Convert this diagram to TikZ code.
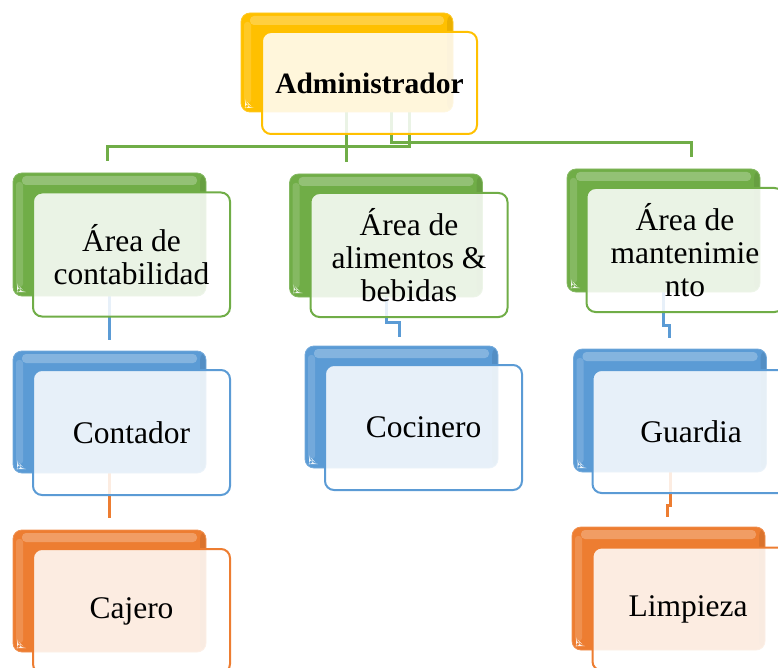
\documentclass[tikz,border=0pt]{standalone}
\usepackage{fontspec}
\setmainfont{Liberation Serif}
\usetikzlibrary{backgrounds}
\definecolor{cgold}{HTML}{FFC000}
\definecolor{cgreen}{HTML}{70AD47}
\definecolor{cblue}{HTML}{5B9BD5}
\definecolor{corange}{HTML}{ED7D31}
\tikzset{
  backbox/.style={rounded corners=9pt, inner sep=0pt, outer sep=0pt,
    minimum width=193pt, minimum height=123pt,
    fill=#1, draw=#1!85!white, line width=0.8pt,
    path picture={
      \fill[white,opacity=0.25,rounded corners=4pt]
        ([shift={(9pt,-3pt)}]path picture bounding box.north west) rectangle
        ([shift={(-9pt,-12pt)}]path picture bounding box.north east);
      \fill[white,opacity=0.15,rounded corners=3pt]
        ([shift={(3pt,-9pt)}]path picture bounding box.north west) rectangle
        ([shift={(10pt,9pt)}]path picture bounding box.south west);
      \fill[black,opacity=0.08]
        ([shift={(-6pt,0pt)}]path picture bounding box.north east) rectangle
        (path picture bounding box.south east);
      \fill[white,opacity=0.9]
        ([shift={(4pt,4pt)}]path picture bounding box.south west) -- ++(8pt,0pt) -- ++(-8pt,8pt) -- cycle;
    }},
  frontbox/.style={rounded corners=9pt, draw=#1, line width=2pt,
    fill=white, fill opacity=0.86, text opacity=1,
    minimum width=197pt, minimum height=124pt, inner sep=2pt, outer sep=0pt,
    align=center, font=\fontsize{31.5}{33}\selectfont},
  conn/.style={draw=#1, line width=3pt},
}
\begin{document}
\begin{tikzpicture}[x=1pt,y=-1pt]
\useasboundingbox (0,0) rectangle (778,668);

% Administrador
\node[backbox=cgold, minimum width=212pt, minimum height=99pt] (adminB) at (347,62.5) {};
\node[frontbox=cgold, minimum width=215pt, minimum height=102pt,
      font=\fontsize{29.5}{31}\selectfont\bfseries] (adminF) at (369.5,83) {Administrador};

% green level
\node[backbox=cgreen] (gLb) at (109.5,234.5) {};
\node[frontbox=cgreen] (gLf) at (131.5,254.5) {Área de\\contabilidad};
\node[backbox=cgreen] (gMb) at (386,235.5) {};
\node[frontbox=cgreen] (gMf) at (409,255) {Área de\\alimentos \&\\bebidas};
\node[backbox=cgreen] (gRb) at (663.5,230.5) {};
\node[frontbox=cgreen] (gRf) at (685,250) {Área de\\mantenimie\\nto};

% blue level
\node[backbox=cblue, minimum height=122pt] (bLb) at (109.5,412) {};
\node[frontbox=cblue, minimum height=125pt] (bLf) at (131.5,432.5) {Contador};
\node[backbox=cblue, minimum height=122pt] (bMb) at (401.5,407) {};
\node[frontbox=cblue, minimum height=125pt] (bMf) at (423.5,427.5) {Cocinero};
\node[backbox=cblue] (bRb) at (670,410.5) {};
\node[frontbox=cblue, minimum height=123pt] (bRf) at (691,431.5) {Guardia};

% orange level
\node[backbox=corange, minimum height=122pt] (oLb) at (109.5,591) {};
\node[frontbox=corange] (oLf) at (131.5,611) {Cajero};
\node[backbox=corange] (oRb) at (668.5,588.5) {};
\node[frontbox=corange, minimum height=123pt] (oRf) at (691,609) {\hspace*{-6pt}Limpieza};

% connectors (behind the boxes)
\begin{pgfonlayer}{background}
  \draw[conn=cgreen] ([xshift=-1pt]adminB.center) -- ([xshift=-40pt,yshift=12pt]gMb.north);
  \draw[conn=cgreen] ([xshift=62pt]adminB.center) -- ++(0,84.5) -| ([xshift=-2.5pt,yshift=12pt]gLb.north);
  \draw[conn=cgreen] ([xshift=44pt]adminB.center) -- ++(0,80.5) -| ([xshift=27.5pt,yshift=12pt]gRb.north);
  \draw[conn=cblue] (gLb.center) -- ([yshift=11pt]bLb.north);
  \draw[conn=cblue] (gMb.center) -- ++(0,86.5) -| ([xshift=-2.5pt,yshift=9pt]bMb.north);
  \draw[conn=cblue] (gRb.center) -- ++(0,94.5) -| ([xshift=-1pt,yshift=11pt]bRb.north);
  \draw[conn=corange] (bLb.center) -- ([yshift=12pt]oLb.north);
  \draw[conn=corange] (bRb.center) -- ++(0,94.5) -| ([xshift=-1.5pt,yshift=10pt]oRb.north);
\end{pgfonlayer}
\end{tikzpicture}
\end{document}
